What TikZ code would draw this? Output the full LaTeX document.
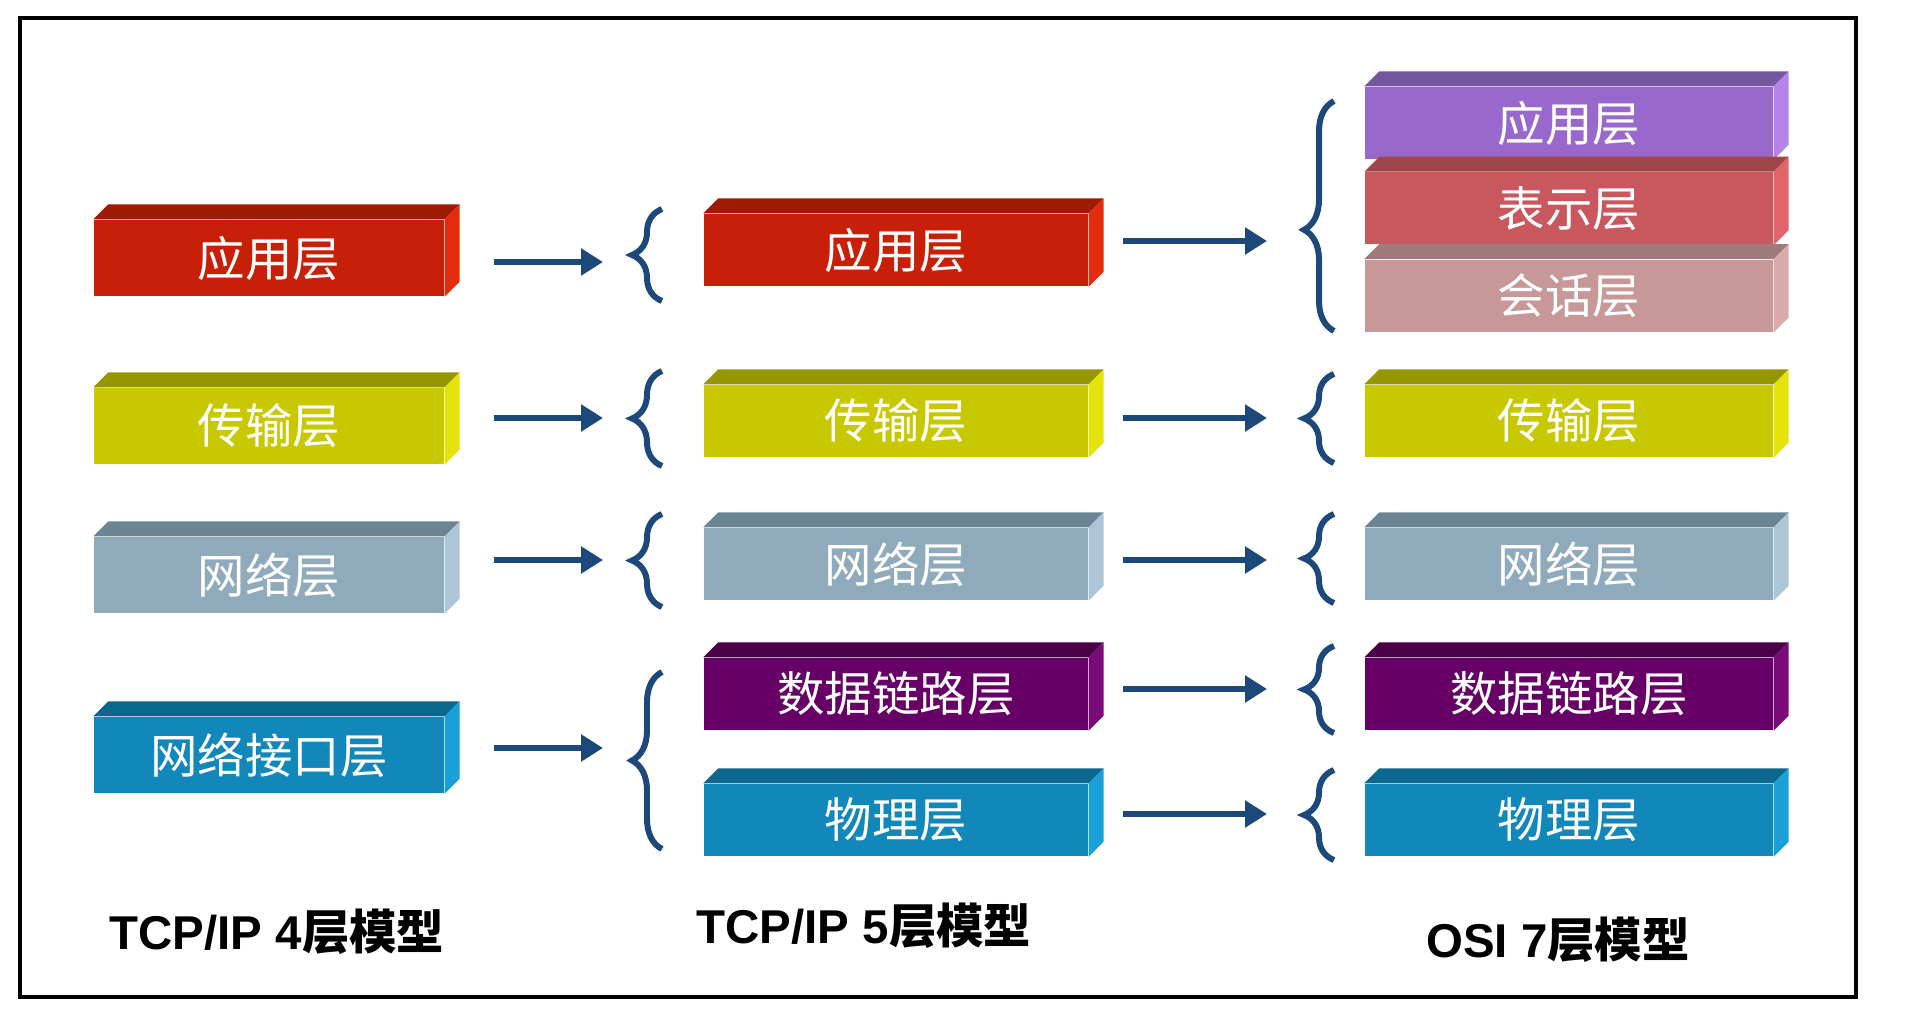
\documentclass[tikz,border=0pt]{standalone}
\usepackage{fontspec}
\setmainfont{Liberation Sans}
\newfontfamily\cjk{Noto Sans CJK SC}
\usepackage{tikz}
\usetikzlibrary{positioning,arrows.meta,decorations.pathreplacing,calc}

\definecolor{navy}{RGB}{28,72,122}
% front / top / side of each layer colour
\definecolor{frontrd}{RGB}{200,32,8}   \definecolor{toprd}{RGB}{158,26,4}   \definecolor{siderd}{RGB}{228,44,12}
\definecolor{frontyl}{RGB}{200,200,0}  \definecolor{topyl}{RGB}{150,150,0}  \definecolor{sideyl}{RGB}{228,228,12}
\definecolor{frontgy}{RGB}{143,170,186}\definecolor{topgy}{RGB}{108,133,148}\definecolor{sidegy}{RGB}{172,198,216}
\definecolor{frontbl}{RGB}{18,136,186} \definecolor{topbl}{RGB}{10,104,140} \definecolor{sidebl}{RGB}{26,160,216}
\definecolor{frontpu}{RGB}{102,0,102}  \definecolor{toppu}{RGB}{74,0,70}    \definecolor{sidepu}{RGB}{122,10,120}
\definecolor{frontlv}{RGB}{153,104,204}\definecolor{toplv}{RGB}{118,86,158} \definecolor{sidelv}{RGB}{182,132,232}
\definecolor{frontrs}{RGB}{200,88,94}  \definecolor{toprs}{RGB}{158,70,72}  \definecolor{siders}{RGB}{226,100,106}
\definecolor{frontpk}{RGB}{200,152,152}\definecolor{toppk}{RGB}{158,122,122}\definecolor{sidepk}{RGB}{216,170,170}

\tikzset{
layer/.style={
inner sep=0pt,
text=white,
font=\cjk\fontsize{13.5}{14}\selectfont
},
layerA/.style={layer,minimum width=3.5cm,minimum height=0.76cm},
layerB/.style={layer,minimum width=3.84cm,minimum height=0.72cm},
layerC/.style={layer,minimum width=4.08cm,minimum height=0.72cm},
arrow/.style={
-{Triangle[length=2.2mm,width=2.6mm]},
line width=1.8pt,
draw=navy
},
curly/.style={
decorate,
decoration={brace,amplitude=3mm},
line width=1.7pt,
draw=navy
},
modelname/.style={
font=\bfseries\fontsize{13.5}{14}\selectfont
}
}

\begin{document}
\begin{tikzpicture}[x=0.1mm,y=-0.1mm]
\useasboundingbox (0,0) rectangle (1910,1030);
\draw[line width=1.2pt] (20,18) rectangle (1856,997);

% TCP/IP 4
\node[layerA,fill=frontrd](a1) at (269,258){应用层};
\node[layerA,fill=frontyl](a2) at (269,426){传输层};
\node[layerA,fill=frontgy](a3) at (269,575){网络层};
\node[layerA,fill=frontbl](a4) at (269,755){网络接口层};

% TCP/IP 5
\node[layerB,fill=frontrd](b1) at (896,250){应用层};
\node[layerB,fill=frontyl](b2) at (896,421){传输层};
\node[layerB,fill=frontgy](b3) at (896,564){网络层};
\node[layerB,fill=frontpu](b4) at (896,694){数据链路层};
\node[layerB,fill=frontbl](b5) at (896,820){物理层};

% OSI 7
\node[layerC,fill=frontlv](c1) at (1569,123){应用层};
\node[layerC,fill=frontrs,below=1.2mm of c1](c2){表示层};
\node[layerC,fill=frontpk,below=1.4mm of c2](c3){会话层};
\node[layerC,fill=frontyl](c4) at (1569,421){传输层};
\node[layerC,fill=frontgy](c5) at (1569,564){网络层};
\node[layerC,fill=frontpu](c6) at (1569,694){数据链路层};
\node[layerC,fill=frontbl](c7) at (1569,820){物理层};

\foreach \n/\c in {a1/rd,a2/yl,a3/gy,a4/bl,b1/rd,b2/yl,b3/gy,b4/pu,b5/bl,c1/lv,c2/rs,c3/pk,c4/yl,c5/gy,c6/pu,c7/bl}{
\fill[top\c](\n.north west)--++(15,-15)--($(\n.north east)+(15,-15)$)--(\n.north east)--cycle;
\fill[side\c](\n.north east)--++(15,-15)--($(\n.south east)+(15,-15)$)--(\n.south east)--cycle;
}

% braces
\draw[curly](662,301)--(662,209);
\draw[curly](662,466)--(662,371);
\draw[curly](662,607)--(662,514);
\draw[curly](662,849)--(662,672);
\draw[curly,decoration={aspect=0.44}](1334,331)--(1334,101);
\draw[curly](1334,463)--(1334,374);
\draw[curly](1334,603)--(1334,514);
\draw[curly](1334,733)--(1334,646);
\draw[curly](1334,860)--(1334,770);

\coordinate(p1) at (632,262);
\coordinate(p2) at (632,418);
\coordinate(p3) at (632,560);
\coordinate(p4) at (632,748);
\coordinate(q1) at (1304,241);
\coordinate(q2) at (1304,418);
\coordinate(q3) at (1304,560);
\coordinate(q4) at (1304,689);
\coordinate(q5) at (1304,814);

\foreach \x/\y in {a1/p1,a2/p2,a3/p3,a4/p4}
\draw[arrow,shorten <=4.9mm,shorten >=2.9mm](\x.east|-\y)--(\y);
\foreach \x/\y in {b1/q1,b2/q2,b3/q3,b4/q4,b5/q5}
\draw[arrow,shorten <=3.4mm,shorten >=3.7mm](\x.east|-\y)--(\y);

\node[modelname](m4) at (277,932){TCP/IP 4{\cjk 层模型}};
\node[modelname](m5) at (864,926){TCP/IP 5{\cjk 层模型}};
\node[modelname](m7) at (1558,940){OSI 7{\cjk 层模型}};
\end{tikzpicture}
\end{document}
